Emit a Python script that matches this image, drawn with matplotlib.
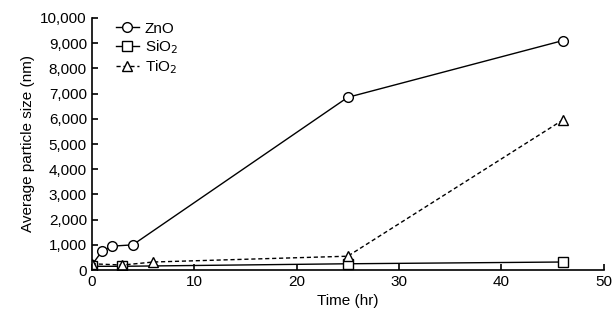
import matplotlib
matplotlib.use("Agg")
import matplotlib.pyplot as plt

plt.rcParams["font.family"] = ["Liberation Sans", "DejaVu Sans"]

zno_t = [0, 1, 2, 4, 25, 46]
zno_size = [200, 750, 950, 1000, 6850, 9100]
sio2_t = [0, 3, 25, 46]
sio2_size = [150, 150, 250, 320]
tio2_t = [0, 3, 6, 25, 46]
tio2_size = [250, 200, 320, 550, 5950]

fig = plt.figure(figsize=(6.16, 3.2), dpi=100)
ax = fig.add_axes([0.149, 0.156, 0.831, 0.788])

mk = dict(markersize=7, markerfacecolor="white", markeredgecolor="black",
          markeredgewidth=1, color="black", linewidth=1)
ax.plot(zno_t, zno_size, marker="o", linestyle="-", label="ZnO", **mk)
ax.plot(sio2_t, sio2_size, marker="s", linestyle="-", label="SiO$_2$", **mk)
ax.plot(tio2_t, tio2_size, marker="^", linestyle=(0, (3, 2)), label="TiO$_2$", **mk)

ax.set_xlim(0, 50)
ax.set_ylim(0, 10000)
ax.set_xticks(range(0, 51, 10))
ax.set_yticks(range(0, 10001, 1000))
ax.set_yticklabels([f"{v:,}" for v in range(0, 10001, 1000)])
for s in ["top", "right"]:
    ax.spines[s].set_visible(False)
for s in ["left", "bottom"]:
    ax.spines[s].set_linewidth(1.2)
ax.tick_params(direction="in", length=4, width=1.2, labelsize=11)
ax.set_xlabel("Time (hr)", fontsize=11)
ax.set_ylabel("Average particle size (nm)", fontsize=11)

ax.legend(loc="upper left", bbox_to_anchor=(0.02, 1.04), frameon=False,
          handlelength=1.5, fontsize=11, labelspacing=0.15, handletextpad=0.4)

fig.savefig("out.png", dpi=100)
